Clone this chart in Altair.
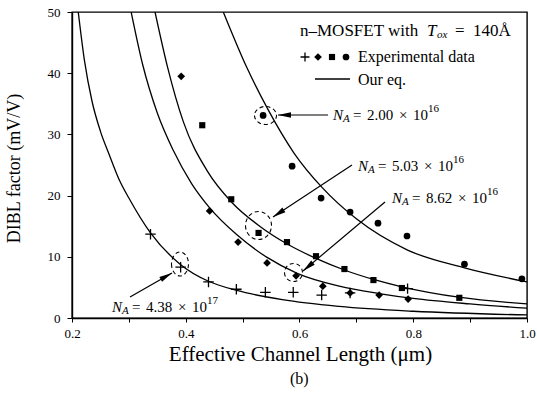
import math
import altair as alt
import pandas as pd

# ---------------- data ----------------
# experimental points
L_circle = [0.536, 0.587, 0.638, 0.689, 0.738, 0.789, 0.890, 0.991]
D_circle = [33.1, 24.8, 19.6, 17.3, 15.5, 13.4, 8.8, 6.4]
L_square = [0.429, 0.480, 0.528, 0.578, 0.629, 0.679, 0.730, 0.780, 0.881]
D_square = [31.5, 19.4, 13.9, 12.4, 10.1, 8.0, 6.2, 4.9, 3.3]
L_diamond = [0.392, 0.442, 0.492, 0.543, 0.594, 0.641, 0.689, 0.740, 0.791]
D_diamond = [39.5, 17.5, 12.4, 9.0, 6.9, 5.2, 4.1, 3.75, 3.1]
L_cross = [0.338, 0.391, 0.440, 0.489, 0.540, 0.589, 0.639, 0.689, 0.790]
D_cross = [13.7, 8.3, 5.9, 4.7, 4.2, 4.2, 3.75, 4.1, 4.8]

# model curves ("Our eq.")
C1_L = [0.466, 0.507, 0.545, 0.59, 0.64, 0.70, 0.79, 0.89, 1.0]
C1_D = [50, 41, 34.0, 27.0, 21.3, 16.2, 11.1, 8.2, 5.9]
C2_L = [0.346, 0.368, 0.396, 0.438, 0.482, 0.53, 0.58, 0.63, 0.68, 0.73, 0.78, 0.88, 1.0]
C2_D = [50, 41, 32, 24, 18.8, 15.0, 12.0, 9.7, 7.8, 6.3, 5.1, 3.4, 2.3]
C3_L = [0.304, 0.324, 0.35, 0.378, 0.41, 0.442, 0.49, 0.543, 0.596, 0.67, 0.74, 0.80, 0.90, 1.0]
C3_D = [50, 41.5, 33.5, 27.4, 22.0, 18.0, 13.6, 9.9, 7.3, 5.2, 4.0, 3.2, 2.3, 1.6]
C4_L = [0.211, 0.222, 0.235, 0.25, 0.265, 0.283, 0.30, 0.338, 0.39, 0.44, 0.49, 0.57, 0.67, 0.80, 1.0]
C4_D = [50, 42, 35.5, 30.5, 26.8, 22.6, 19.6, 13.9, 8.8, 6.0, 4.5, 3.0, 1.9, 1.1, 0.5]

x_ticks = [0.2, 0.3, 0.4, 0.5, 0.6, 0.7, 0.8, 0.9, 1.0]
y_ticks = [0, 5, 10, 15, 20, 25, 30, 35, 40, 45, 50]

NA_values = ["2.00", "5.03", "8.62", "4.38"]
NA_exps = ["16", "16", "16", "17"]

# ---------------- layout ----------------
FONT = "Liberation Serif"
W, H = 455, 306
OX, OY = 72, 12           # page position of the plot's top-left corner
XMIN, XMAX, YMIN, YMAX = 0.2, 1.0, 0.0, 50.0


def px2x(px):
    return XMIN + (px - OX) / W * (XMAX - XMIN)


def py2y(py):
    return YMAX - (py - OY) / H * (YMAX - YMIN)


xs = alt.Scale(domain=[XMIN, XMAX], nice=False, zero=False)
ys = alt.Scale(domain=[YMIN, YMAX], nice=False, zero=False)

xaxis = alt.Axis(
    values=x_ticks,
    labelExpr="(round(datum.value*10) % 2 == 0) ? format(datum.value, '.1f') : ''",
    title="Effective Channel Length (\u03bcm)",
    titleFont=FONT, titleFontSize=21, titleFontWeight="normal", titleColor="black",
    titleX=228, titleY=36, titleBaseline="middle", titleAlign="center",
    labelFont=FONT, labelFontSize=13, labelColor="black", labelPadding=5,
    tickSize=4, tickColor="black", domainColor="black", domainWidth=1.4,
    grid=False, labelFlush=False, labelOverlap=False,
)
yaxis = alt.Axis(
    values=y_ticks,
    labelExpr="(datum.value % 10 == 0) ? format(datum.value, 'd') : ''",
    title="DIBL factor (mV/V)",
    titleFont=FONT, titleFontSize=18, titleFontWeight="normal", titleColor="black",
    titleX=-58, titleY=156, titleBaseline="middle", titleAlign="center", titleAngle=270,
    labelFont=FONT, labelFontSize=13, labelColor="black", labelPadding=7,
    tickSize=5, tickColor="black", domainColor="black", domainWidth=1.4,
    grid=False, labelFlush=False, labelOverlap=False,
)

# ---------------- curves ----------------
curve_rows = []
for name, Ls, Ds in [("c1", C1_L, C1_D), ("c2", C2_L, C2_D), ("c3", C3_L, C3_D), ("c4", C4_L, C4_D)]:
    for l, d in zip(Ls, Ds):
        curve_rows.append({"L": l, "D": d, "s": name})
curves = alt.Chart(pd.DataFrame(curve_rows)).mark_line(
    color="black", strokeWidth=1.3, interpolate="monotone", clip=True
).encode(
    x=alt.X("L:Q", scale=xs, axis=xaxis),
    y=alt.Y("D:Q", scale=ys, axis=yaxis),
    detail="s:N",
)

CROSS = "M -1 0 L 1 0 M 0 -1 L 0 1"


def pts(Ls, Ds, **kw):
    return alt.Chart(pd.DataFrame({"L": Ls, "D": Ds})).mark_point(**kw).encode(
        x=alt.X("L:Q", scale=xs), y=alt.Y("D:Q", scale=ys)
    )


P_CIRCLE = dict(shape="circle", filled=True, color="black", size=45, opacity=1)
P_SQUARE = dict(shape="square", filled=True, color="black", size=38, opacity=1)
P_DIAMOND = dict(shape="diamond", filled=True, color="black", size=60, opacity=1)
P_CROSS = dict(shape=CROSS, filled=False, color="black", size=110, strokeWidth=1.3, opacity=1)
P_CROSS_SMALL = dict(P_CROSS, size=80)

points = [
    pts(L_circle, D_circle, **P_CIRCLE),
    pts(L_square, D_square, **P_SQUARE),
    pts(L_diamond, D_diamond, **P_DIAMOND),
    pts(L_cross, D_cross, **P_CROSS),
]

# ---------------- legend (top right) ----------------
leg_sym = [
    pts([px2x(305)], [py2y(57)], **P_CROSS_SMALL),
    pts([px2x(318)], [py2y(57)], **P_DIAMOND),
    pts([px2x(332)], [py2y(57)], **P_SQUARE),
    pts([px2x(346)], [py2y(57)], **P_CIRCLE),
]
leg_line = alt.Chart(pd.DataFrame({"L": [px2x(315)], "L2": [px2x(350)], "D": [py2y(79)]})).mark_rule(
    color="black", strokeWidth=1.3
).encode(x=alt.X("L:Q", scale=xs), x2="L2:Q", y=alt.Y("D:Q", scale=ys))

# text pieces: (page x, page y, text, font size, italic)
pieces = [
    (300, 31, "n\u2013MOSFET with", 17, False),
    (427, 31, "T", 17, True),
    (437, 35, "ox", 11, True),
    (455, 31, "=", 17, False),
    (473, 31, "140\u00c5", 17, False),
    (358, 57, "Experimental data", 16, False),
    (358, 80, "Our eq.", 16, False),
]
NA_pos = [(333, 115), (358, 166), (392, 198), (112, 307)]
for (bx, by), v, e in zip(NA_pos, NA_values, NA_exps):
    pieces += [
        (bx, by, "N", 15, True),
        (bx + 10, by + 4, "A", 11, True),
        (bx + 20, by, "=", 15, False),
        (bx + 34, by, v, 15, False),
        (bx + 66, by, "\u00d7", 15, False),
        (bx + 80, by, "10", 15, False),
        (bx + 95, by - 6, e, 11, False),
    ]
pieces.append((290, 379, "(b)", 16, False))

tdf = pd.DataFrame(
    [{"L": px2x(x), "D": py2y(y), "t": t, "fs": s, "it": it} for x, y, t, s, it in pieces]
)


def text_layer(italic):
    return alt.Chart(tdf[tdf.it == italic]).mark_text(
        font=FONT, align="left", baseline="middle", color="black",
        fontStyle="italic" if italic else "normal", clip=False,
    ).encode(
        x=alt.X("L:Q", scale=xs), y=alt.Y("D:Q", scale=ys),
        text="t:N", size=alt.Size("fs:Q", scale=None, legend=None),
    )


# ---------------- arrows ----------------
arrows = [  # tail (page px) -> tip (page px)
    ((328, 115), (278, 115)),
    ((352, 165), (273, 217)),
    ((385, 202), (303, 271)),
    ((130, 297), (172, 273)),
]
arr_rows, head_rows = [], []
for (tx, ty), (hx, hy) in arrows:
    arr_rows.append({"L": px2x(tx), "D": py2y(ty), "L2": px2x(hx), "D2": py2y(hy)})
    ang = math.degrees(math.atan2(hx - tx, -(hy - ty))) % 360
    head_rows.append({"L": px2x(hx), "D": py2y(hy), "a": ang})
arrow_lines = alt.Chart(pd.DataFrame(arr_rows)).mark_rule(color="black", strokeWidth=1.2).encode(
    x=alt.X("L:Q", scale=xs), y=alt.Y("D:Q", scale=ys), x2="L2:Q", y2="D2:Q"
)
HEAD = "M 0 0 L 0.42 2 L -0.42 2 Z"
arrow_heads = alt.Chart(pd.DataFrame(head_rows)).mark_point(
    shape=HEAD, filled=True, color="black", size=169, opacity=1
).encode(
    x=alt.X("L:Q", scale=xs), y=alt.Y("D:Q", scale=ys),
    angle=alt.Angle("a:Q", scale=None),
)

# ---------------- dashed ellipses ----------------
ellipses = [  # centre (page px), width, height
    ((265.5, 115.5), 22, 18),
    ((258.5, 225.5), 26, 28),
    ((293.5, 272.5), 18, 18),
    ((180, 264), 17, 24),
]
ell_layers = []
for (cx, cy), w, h in ellipses:
    r = h / w
    path = f"M -1 0 A 1 {r:.3f} 0 1 0 1 0 A 1 {r:.3f} 0 1 0 -1 0 Z"
    ell_layers.append(
        alt.Chart(pd.DataFrame({"L": [px2x(cx)], "D": [py2y(cy)]})).mark_point(
            shape=path, filled=False, color="black", size=w * w, strokeWidth=1.1,
            strokeDash=[4, 3], opacity=1,
        ).encode(x=alt.X("L:Q", scale=xs), y=alt.Y("D:Q", scale=ys))
    )

chart = alt.layer(
    curves, *points, *leg_sym, leg_line, arrow_lines, arrow_heads, *ell_layers,
    text_layer(False), text_layer(True),
).properties(
    width=W, height=H,
    padding={"left": OX, "top": OY, "right": 537 - OX - W, "bottom": 403 - OY - H},
    autosize=alt.AutoSizeParams(type="none"),
    background="white",
).configure_view(
    stroke="black", strokeWidth=1.4
)

chart.save("out.html", embed_options={"renderer": "svg", "actions": False})
